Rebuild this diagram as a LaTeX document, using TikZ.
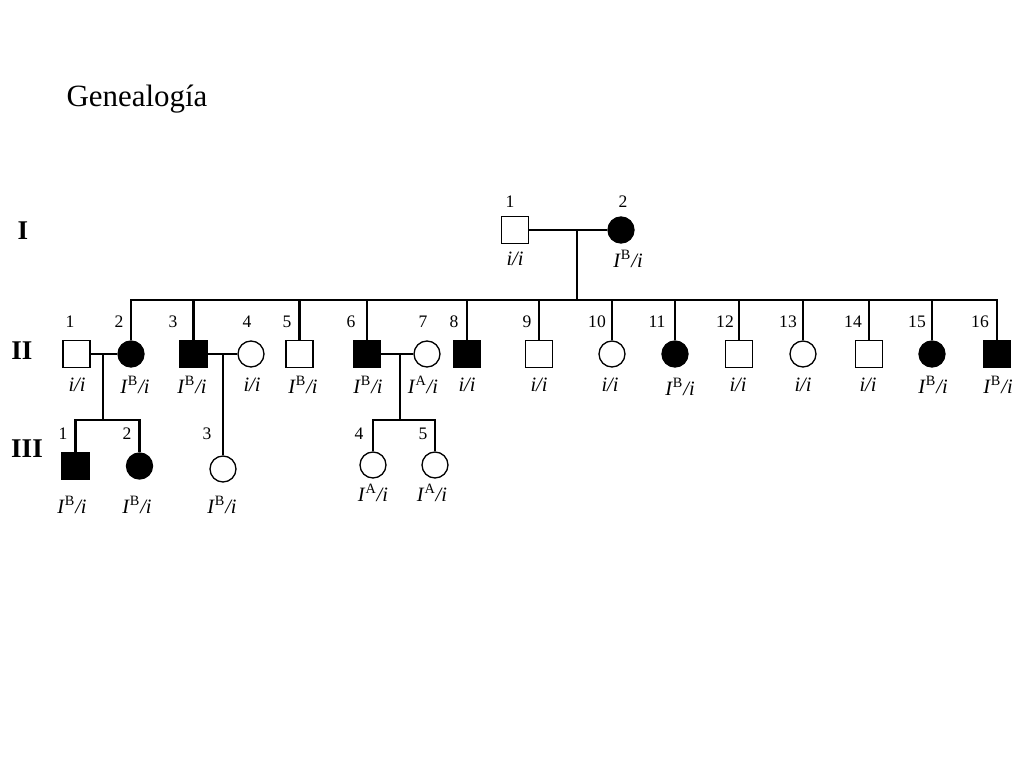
\documentclass[tikz,border=0pt]{standalone}
\usepackage{fontspec}
\setmainfont{Liberation Serif}
\newcommand{\gtipo}[1]{\textit{I}\textsuperscript{#1}\textit{/i}}
\tikzset{
  hombre/.style={draw, rectangle, minimum size=0.54cm, inner sep=0pt, line width=0.75pt},
  mujer/.style={draw, circle, minimum size=0.52cm, inner sep=0pt, line width=0.75pt},
  afectado/.style={fill=black},
  linea/.style={line width=1.15pt},
  num/.style={font=\fontsize{10}{12}\selectfont, inner sep=0pt},
  geno/.style={font=\fontsize{11.6}{14}\selectfont, inner sep=0pt},
  generacion/.style={font=\fontsize{15.4}{18}\selectfont\bfseries, inner sep=0pt}
}
\begin{document}
\begin{tikzpicture}[x=0.02cm, y=-0.02cm]
        \useasboundingbox (0,0) rectangle (1024,768);
        % Titulo y generaciones
        \node[font=\fontsize{17.6}{20}\selectfont, inner sep=0pt] (titulo) at (137,99) {Genealogía};
        \node[generacion] (gI) at (23,231) {I};
        \node[generacion] (gII) at (22,351) {II};
        \node[generacion] (gIII) at (27,449) {III};

        % Generacion I
        \node[hombre] (i1) at (515,230) {};
        \node[mujer, afectado] (i2) at (621,230) {};
        \node[num] (ni1) at (510,202) {1};
        \node[num] (ni2) at (623,202) {2};
        \node[geno] (gi1) at (515,259) {\textit{i/i}};
        \node[geno] (gi2) at (628,259) {\gtipo{B}};

        % Generacion II
        \node[hombre] (ii1) at (76.5,354) {};
        \node[mujer, afectado] (ii2) at (131,354) {};
        \node[hombre, afectado] (ii3) at (193.5,354) {};
        \node[mujer] (ii4) at (251,354) {};
        \node[hombre] (ii5) at (299.5,354) {};
        \node[hombre, afectado] (ii6) at (367,354) {};
        \node[mujer] (ii7) at (427,354) {};
        \node[hombre, afectado] (ii8) at (467,354) {};
        \node[hombre] (ii9) at (539,354) {};
        \node[mujer] (ii10) at (612,354) {};
        \node[mujer, afectado] (ii11) at (675,354) {};
        \node[hombre] (ii12) at (739,354) {};
        \node[mujer] (ii13) at (803,354) {};
        \node[hombre] (ii14) at (869,354) {};
        \node[mujer, afectado] (ii15) at (932,354) {};
        \node[hombre, afectado] (ii16) at (997,354) {};
        % Numeros de la generacion II
        \node[num] (nii1) at (70,322) {1};
        \node[num] (nii2) at (119,322) {2};
        \node[num] (nii3) at (173,322) {3};
        \node[num] (nii4) at (247,322) {4};
        \node[num] (nii5) at (287,322) {5};
        \node[num] (nii6) at (351,322) {6};
        \node[num] (nii7) at (423,322) {7};
        \node[num] (nii8) at (454,322) {8};
        \node[num] (nii9) at (527,322) {9};
        \node[num] (nii10) at (597,322) {10};
        \node[num] (nii11) at (657,322) {11};
        \node[num] (nii12) at (725,322) {12};
        \node[num] (nii13) at (788,322) {13};
        \node[num] (nii14) at (853,322) {14};
        \node[num] (nii15) at (917,322) {15};
        \node[num] (nii16) at (980,322) {16};
        % Genotipos de la generacion II
        \node[geno] (gii1) at (77,385) {\textit{i/i}};
        \node[geno] (gii2) at (135,385) {\gtipo{B}};
        \node[geno] (gii3) at (192,385) {\gtipo{B}};
        \node[geno] (gii4) at (252,385) {\textit{i/i}};
        \node[geno] (gii5) at (303,385) {\gtipo{B}};
        \node[geno] (gii6) at (368,385) {\gtipo{B}};
        \node[geno] (gii7) at (423,385) {\gtipo{A}};
        \node[geno] (gii8) at (467,385) {\textit{i/i}};
        \node[geno] (gii9) at (539,385) {\textit{i/i}};
        \node[geno] (gii10) at (610,385) {\textit{i/i}};
        \node[geno] (gii11) at (680,387) {\gtipo{B}};
        \node[geno] (gii12) at (738,385) {\textit{i/i}};
        \node[geno] (gii13) at (803,385) {\textit{i/i}};
        \node[geno] (gii14) at (868,385) {\textit{i/i}};
        \node[geno] (gii15) at (933,385) {\gtipo{B}};
        \node[geno] (gii16) at (998,385) {\gtipo{B}};

        % Generacion III
        \node[hombre, afectado] (iii1) at (75.5,466) {};
        \node[mujer, afectado] (iii2) at (139.5,466) {};
        \node[mujer] (iii3) at (223,469) {};
        \node[mujer] (iii4) at (373,465) {};
        \node[mujer] (iii5) at (435,465) {};
        \node[num] (niii1) at (63,434) {1};
        \node[num] (niii2) at (127,434) {2};
        \node[num] (niii3) at (207,434) {3};
        \node[num] (niii4) at (359,434) {4};
        \node[num] (niii5) at (423,434) {5};
        \node[geno] (giii1) at (72,505) {\gtipo{B}};
        \node[geno] (giii2) at (137,505) {\gtipo{B}};
        \node[geno] (giii3) at (222,505) {\gtipo{B}};
        \node[geno] (giii4) at (373,493) {\gtipo{A}};
        \node[geno] (giii5) at (432,493) {\gtipo{A}};

        % Lineas: pareja I y sus hijos
        \coordinate (m1) at (577,230);
        \coordinate (s1) at (577,300);
        \draw[linea] (i1) -- (i2);
        \draw[linea] (m1) -- (s1);
        \draw[linea] (ii2.north) |- (s1);
        \draw[linea] (ii3.north) |- (s1);
        \draw[linea] (ii5.north) |- (s1);
        \draw[linea] (ii6.north) |- (s1);
        \draw[linea] (ii8.north) |- (s1);
        \draw[linea] (ii9.north) |- (s1);
        \draw[linea] (ii10.north) |- (s1);
        \draw[linea] (ii11.north) |- (s1);
        \draw[linea] (ii12.north) |- (s1);
        \draw[linea] (ii13.north) |- (s1);
        \draw[linea] (ii14.north) |- (s1);
        \draw[linea] (ii15.north) |- (s1);
        \draw[linea] (ii16.north) |- (s1);

        % Parejas de la generacion II
        \coordinate (m21) at (103,354);
        \coordinate (s21) at (103,420);
        \draw[linea] (ii1) -- (ii2);
        \draw[linea] (m21) -- (s21);
        \draw[linea] (iii1.north) |- (s21) -| (iii2.north);

        \coordinate (m23) at (223,354);
        \draw[linea] (ii3) -- (ii4);
        \draw[linea] (m23) -- (iii3.north);

        \coordinate (m26) at (400,354);
        \coordinate (s26) at (400,420);
        \draw[linea] (ii6) -- (ii7);
        \draw[linea] (m26) -- (s26);
        \draw[linea] (iii4.north) |- (s26) -| (iii5.north);
\end{tikzpicture}
\end{document}
